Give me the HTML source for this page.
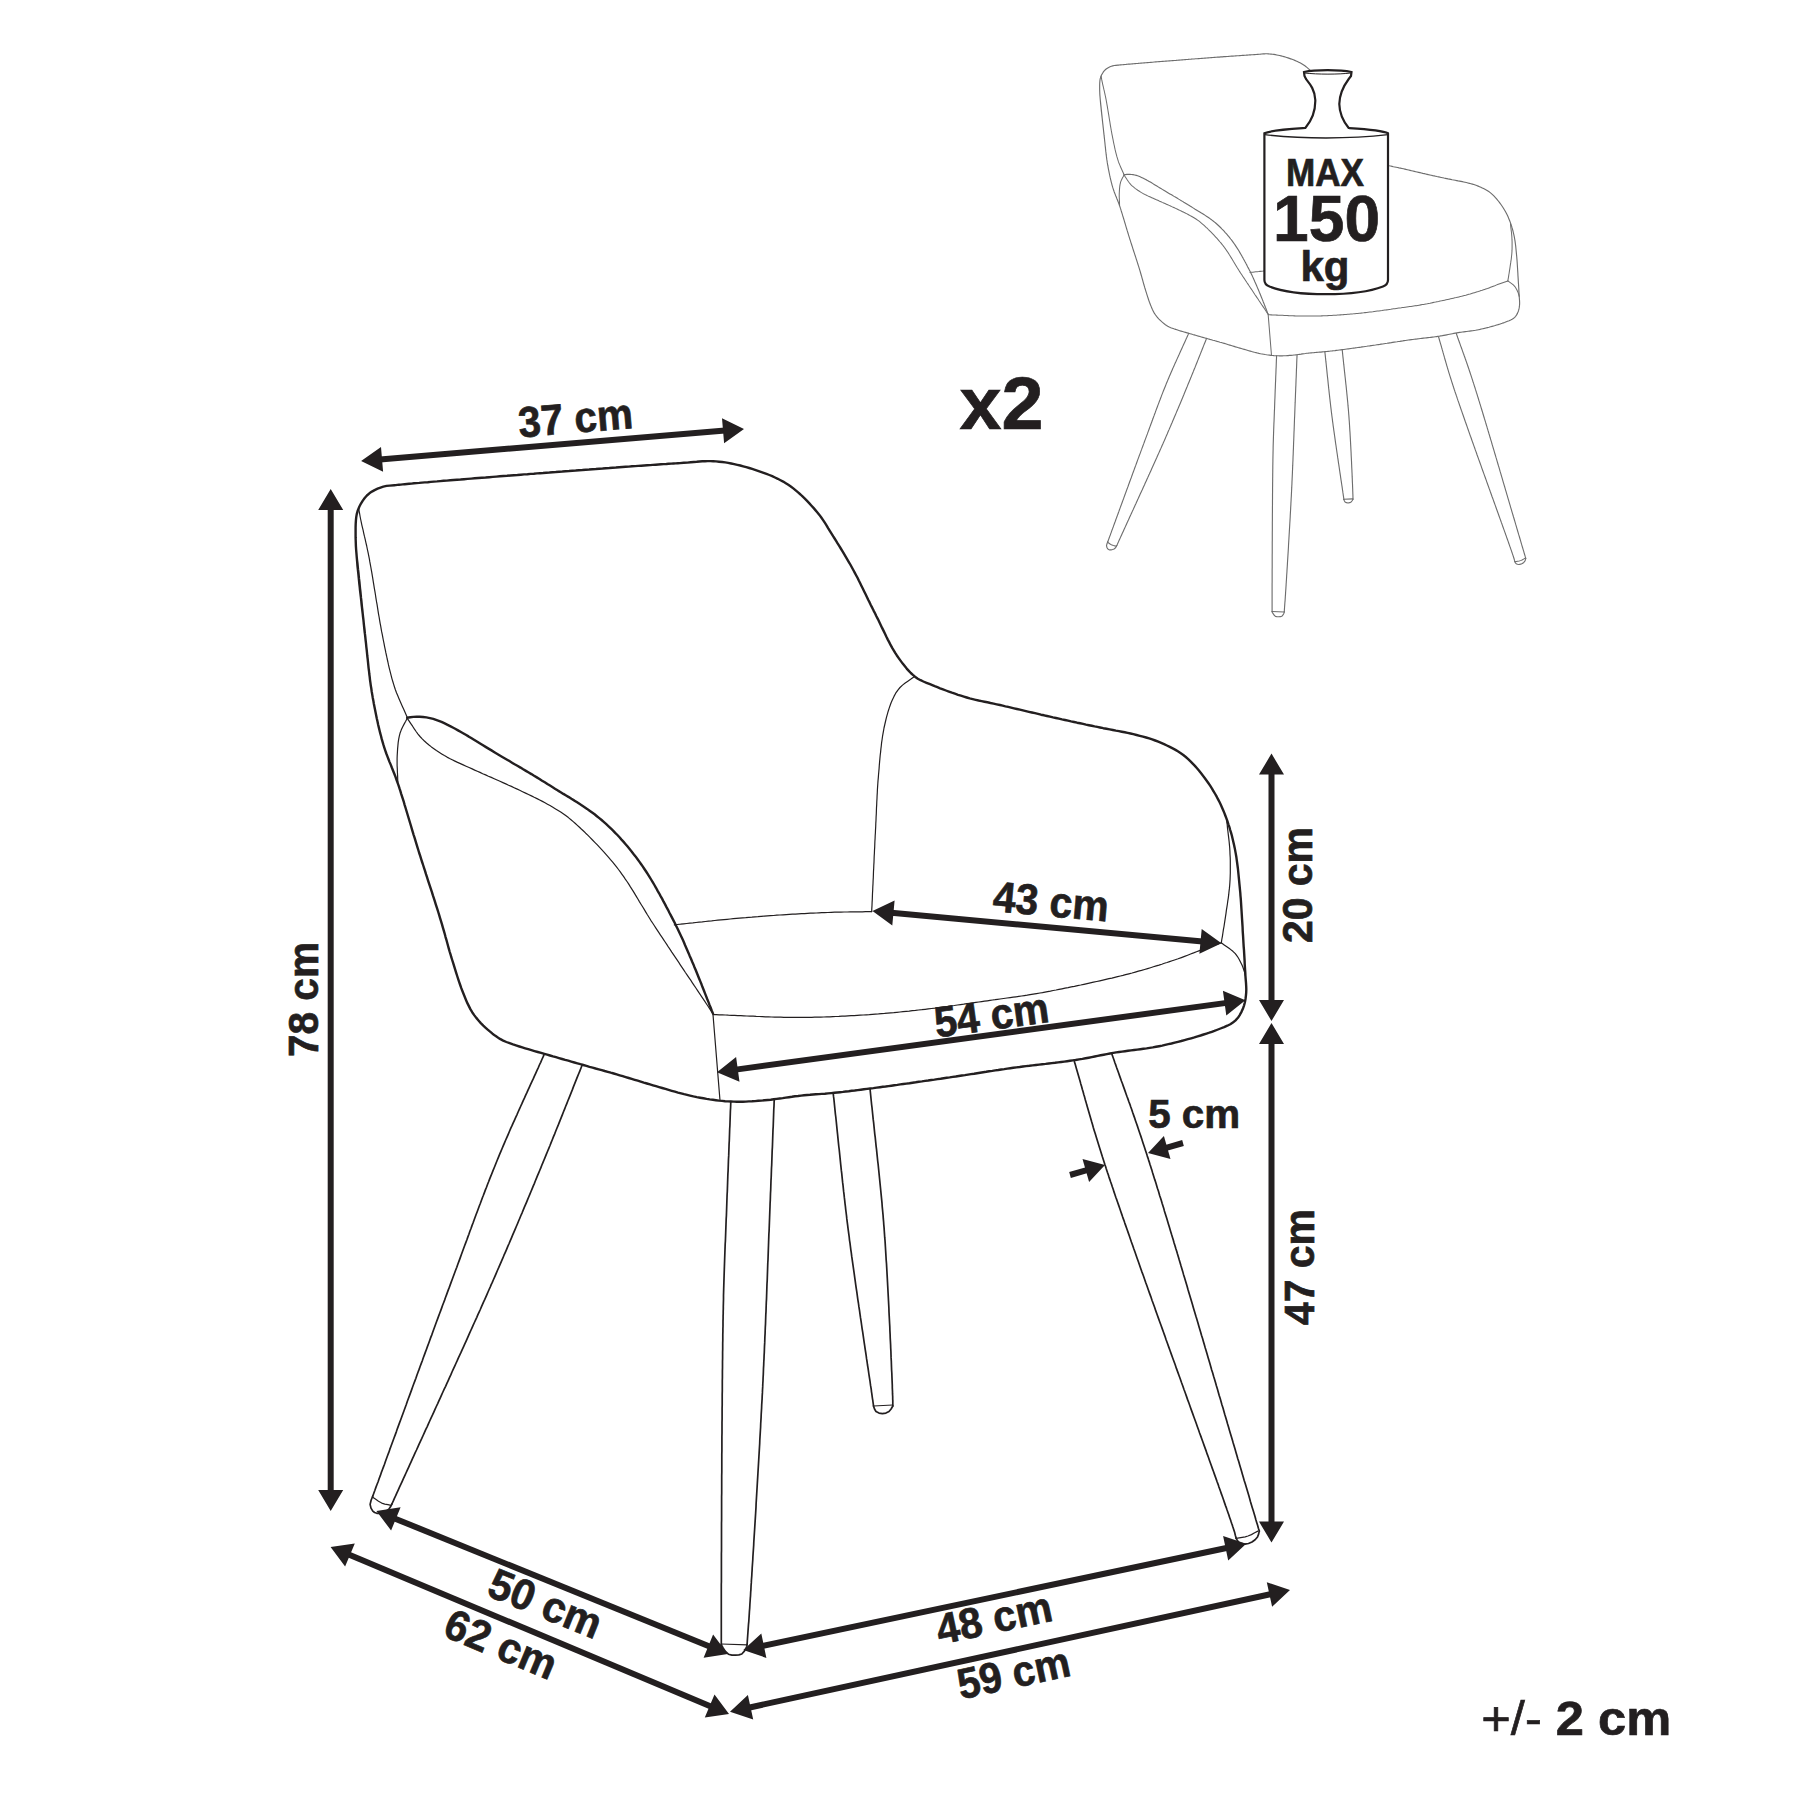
<!DOCTYPE html>
<html><head><meta charset="utf-8"><style>
html,body{margin:0;padding:0;background:#fff;}
svg{display:block;}
text{font-family:"Liberation Sans",sans-serif;font-weight:bold;fill:#231f20;stroke:#231f20;stroke-width:0.7px;}
</style></head><body>
<svg width="1800" height="1800" viewBox="0 0 1800 1800">
<defs>
<g id="cT"><path d="M365.6,640.0 365.3,636.9 364.9,633.7 364.6,630.5 364.2,627.2 363.8,623.8 363.5,620.5 363.1,617.1 362.7,613.7 362.3,610.3 361.9,606.9 361.5,603.5 361.2,600.1 360.8,596.7 360.4,593.4 360.0,590.1 359.7,586.9 359.3,583.7 359.0,580.5 358.7,577.5 358.4,574.5 358.1,571.7 357.8,568.9 357.5,566.2 357.3,563.6 357.1,561.2 356.9,558.9 356.7,556.7 356.4,552.8 356.1,549.3 355.9,546.1 355.8,543.1 355.7,540.3 355.6,537.4 355.6,534.4 355.6,530.9 355.6,527.4 355.7,523.9 355.9,520.6 356.2,517.4 356.7,514.4 357.8,510.4 359.3,506.8 361.1,503.3 362.8,500.6 364.7,498.0 366.9,495.5 369.4,493.3 371.9,491.6 374.6,490.1 377.6,488.7 380.5,487.6 383.3,486.7 386.6,485.9 389.8,485.6 394.4,485.2 395.8,485.1 397.3,484.9 399.0,484.7 400.8,484.6 402.7,484.4 404.7,484.2 406.9,484.0 409.1,483.8 411.5,483.6 414.0,483.3 416.6,483.1 419.2,482.9 422.0,482.6 424.9,482.4 427.8,482.2 430.8,481.9 433.9,481.6 437.0,481.4 440.2,481.1 443.5,480.8 446.8,480.6 450.2,480.3 453.6,480.0 457.0,479.7 460.5,479.5 464.1,479.2 467.6,478.9 471.2,478.6 474.7,478.3 478.3,478.0 481.9,477.7 485.6,477.5 489.2,477.2 492.8,476.9 496.3,476.6 499.9,476.3 503.5,476.0 507.0,475.8 510.5,475.5 514.0,475.2 517.4,475.0 520.8,474.7 524.1,474.4 527.4,474.2 530.7,473.9 533.8,473.7 537.0,473.4 540.0,473.2 543.1,473.0 546.2,472.7 549.4,472.5 552.6,472.2 555.8,472.0 559.1,471.7 562.3,471.5 565.6,471.2 569.0,471.0 572.3,470.7 575.7,470.5 579.0,470.2 582.4,470.0 585.8,469.7 589.1,469.5 592.5,469.2 595.9,469.0 599.2,468.7 602.6,468.5 605.9,468.2 609.3,468.0 612.6,467.7 615.9,467.5 619.2,467.2 622.4,467.0 625.6,466.8 628.8,466.6 632.0,466.3 635.1,466.1 638.2,465.9 641.2,465.7 644.2,465.5 647.2,465.3 650.1,465.1 652.9,464.9 655.7,464.7 658.4,464.5 661.1,464.3 663.7,464.1 666.3,464.0 668.7,463.8 671.1,463.6 673.5,463.5 675.7,463.4 677.9,463.2 680.0,463.1 683.8,462.8 687.4,462.6 690.7,462.3 693.8,462.0 696.7,461.8 699.5,461.5 702.3,461.3 705.0,461.2 707.7,461.1 710.4,461.1 713.2,461.2 716.1,461.4 719.1,461.7 722.2,462.0 725.2,462.4 728.2,462.9 731.2,463.5 734.2,464.1 737.3,464.8 740.3,465.5 743.3,466.3 746.3,467.1 749.2,468.0 752.2,468.9 755.0,469.8 757.9,470.8 760.8,471.8 763.6,472.8 766.5,473.9 769.4,475.0 772.2,476.2 775.0,477.5 777.8,478.8 780.5,480.2 783.2,481.6 785.8,483.2 788.3,484.8 790.8,486.5 793.3,488.4 795.7,490.4 798.1,492.4 800.5,494.5 802.8,496.7 805.1,498.9 807.3,501.2 809.4,503.4 811.5,505.7 813.5,507.9 815.4,510.1 817.2,512.2 819.4,514.9 821.3,517.5 823.1,520.1 824.8,522.7 826.5,525.3 828.1,528.1 829.8,530.9 831.7,533.9 833.1,536.2 834.6,538.5 836.1,540.9 837.6,543.4 839.2,545.9 840.8,548.5 842.4,551.1 843.9,553.7 845.5,556.4 847.1,559.1 848.7,561.8 850.3,564.5 851.8,567.3 853.3,570.0 854.7,572.6 856.1,575.2 857.5,577.8 858.8,580.5 860.2,583.2 861.5,585.9 862.9,588.7 864.2,591.4 865.6,594.2 866.9,596.9 868.2,599.7 869.6,602.4 870.9,605.2 872.3,607.9 873.6,610.6 875.0,613.3 876.4,616.2 877.9,619.1 879.3,622.0 880.7,624.9 882.1,627.9 883.6,630.9 885.0,633.8 886.4,636.8 887.8,639.6 889.3,642.4 890.7,645.2 892.2,647.9 893.7,650.4 895.2,652.9 896.7,655.2 898.7,658.1 900.7,660.9 902.7,663.6 904.7,666.1 906.7,668.6 908.8,670.9 910.8,673.0 912.9,674.9 915.0,676.7 917.8,678.7 920.6,680.2 923.4,681.5 926.5,682.8 930.0,684.2 932.3,685.2 934.7,686.2 937.4,687.2 940.1,688.3 943.0,689.4 945.9,690.5 948.9,691.6 951.9,692.7 954.9,693.7 958.0,694.8 960.9,695.7 963.9,696.6 966.7,697.5 969.7,698.4 972.7,699.1 975.7,699.8 978.6,700.5 981.5,701.1 984.5,701.7 987.4,702.3 990.5,703.0 993.6,703.6 996.7,704.3 1000.0,705.0 1002.7,705.6 1005.4,706.3 1008.2,706.9 1011.1,707.6 1014.0,708.3 1016.9,709.0 1019.9,709.7 1022.9,710.4 1025.9,711.1 1028.9,711.8 1031.9,712.5 1035.0,713.2 1038.0,713.9 1041.0,714.7 1044.1,715.3 1047.0,716.0 1050.0,716.7 1053.0,717.4 1055.9,718.0 1058.9,718.7 1062.0,719.4 1065.0,720.0 1068.0,720.7 1071.1,721.4 1074.1,722.0 1077.1,722.7 1080.1,723.3 1083.1,723.9 1086.0,724.6 1088.9,725.2 1091.8,725.8 1094.6,726.4 1097.3,726.9 1100.0,727.5 1103.3,728.2 1106.5,728.8 1109.7,729.4 1112.8,730.0 1115.9,730.6 1118.9,731.1 1121.8,731.7 1124.8,732.3 1127.6,732.9 1130.5,733.5 1133.3,734.2 1136.6,735.0 1139.8,735.8 1143.0,736.7 1146.1,737.5 1149.2,738.4 1152.2,739.4 1155.2,740.5 1158.3,741.7 1161.2,742.9 1164.1,744.2 1166.9,745.5 1169.8,746.9 1172.7,748.4 1175.5,749.9 1178.2,751.5 1180.8,753.2 1183.3,755.0 1185.8,757.0 1188.2,759.1 1190.5,761.3 1192.7,763.6 1194.9,765.9 1197.0,768.3 1199.1,770.8 1201.1,773.3 1203.0,775.7 1204.9,778.2 1206.7,780.7 1208.5,783.3 1210.3,785.9 1212.0,788.6 1213.6,791.3 1215.2,794.0 1216.7,796.7 1218.1,799.4 1219.5,802.0 1220.8,804.7 1222.0,807.4 1223.2,810.2 1224.3,812.9 1225.4,815.8 1226.5,818.6 1227.5,821.5 1228.4,824.3 1229.4,827.1 1230.2,830.0 1231.1,832.9 1231.9,835.8 1232.6,838.8 1233.3,841.8 1234.0,844.8 1234.7,847.9 1235.3,851.1 1235.8,853.9 1236.3,856.7 1236.7,859.6 1237.1,862.5 1237.5,865.5 1237.9,868.5 1238.2,871.5 1238.5,874.5 1238.8,877.6 1239.1,880.7 1239.4,883.8 1239.7,886.9 1240.0,890.0 1240.3,893.0 1240.5,896.0 1240.8,899.1 1241.0,902.2 1241.2,905.4 1241.4,908.5 1241.6,911.7 1241.8,914.9 1242.0,918.1 1242.2,921.2 1242.4,924.4 1242.6,927.5 1242.7,930.6 1242.9,933.6 1243.1,936.6 1243.3,940.0 1243.5,943.5 1243.7,946.9 1244.0,950.4 1244.2,953.9 1244.4,957.3 1244.6,960.6 1244.7,963.8 1244.9,967.0 1245.1,970.0 1245.3,972.8 1245.4,975.5 1245.7,979.4 1246.0,982.9 1246.2,986.2 1246.3,989.4 1246.2,992.6 1245.9,995.8 1245.5,999.0 1244.9,1002.2 1244.1,1005.3 1243.1,1008.2 1241.6,1011.6 1239.9,1014.8 1237.9,1017.8 1235.3,1020.6 1232.9,1022.5 1230.3,1024.2 1227.3,1025.7 1224.1,1027.1 1220.5,1028.5 1216.7,1030.0 1214.4,1030.9 1211.9,1031.8 1209.3,1032.7 1206.5,1033.6 1203.6,1034.5 1200.6,1035.5 1197.6,1036.4 1194.4,1037.4 1191.2,1038.3 1187.9,1039.2 1184.6,1040.1 1181.3,1041.0 1178.0,1041.8 1174.7,1042.7 1171.5,1043.5 1168.3,1044.2 1165.2,1044.9 1162.2,1045.6 1159.1,1046.2 1156.0,1046.8 1152.8,1047.4 1149.7,1047.9 1146.6,1048.4 1143.4,1048.8 1140.3,1049.2 1137.2,1049.6 1134.1,1050.0 1131.1,1050.4 1128.0,1050.8 1125.0,1051.2 1122.0,1051.6 1119.1,1052.0 1116.2,1052.4 1113.3,1052.9 1110.0,1053.5 1106.8,1054.1 1103.7,1054.7 1100.7,1055.3 1097.7,1055.9 1094.7,1056.5 1091.7,1057.1 1088.7,1057.7 1085.6,1058.3 1082.4,1058.9 1079.1,1059.4 1075.6,1060.0 1072.8,1060.4 1070.0,1060.8 1067.1,1061.2 1064.2,1061.6 1061.2,1062.0 1058.1,1062.4 1055.0,1062.8 1051.9,1063.1 1048.7,1063.5 1045.6,1063.9 1042.3,1064.2 1039.1,1064.6 1035.9,1065.0 1032.6,1065.4 1029.4,1065.8 1026.1,1066.1 1022.9,1066.5 1019.7,1067.0 1016.5,1067.4 1013.3,1067.8 1010.3,1068.2 1007.3,1068.6 1004.3,1069.1 1001.3,1069.5 998.3,1070.0 995.3,1070.4 992.3,1070.9 989.2,1071.3 986.2,1071.8 983.2,1072.2 980.1,1072.7 977.1,1073.2 974.1,1073.7 971.0,1074.1 968.0,1074.6 964.9,1075.1 961.9,1075.5 958.8,1076.0 955.8,1076.5 952.8,1076.9 949.7,1077.4 946.7,1077.8 943.7,1078.2 940.6,1078.7 937.5,1079.1 934.4,1079.6 931.3,1080.0 928.2,1080.5 925.1,1080.9 921.9,1081.4 918.8,1081.8 915.7,1082.3 912.6,1082.7 909.5,1083.2 906.4,1083.6 903.3,1084.0 900.3,1084.4 897.3,1084.9 894.3,1085.3 891.4,1085.7 888.5,1086.1 885.6,1086.5 882.8,1086.8 880.0,1087.2 876.7,1087.6 873.4,1088.1 870.2,1088.5 867.0,1088.9 863.9,1089.3 860.8,1089.7 857.7,1090.1 854.7,1090.5 851.7,1090.8 848.8,1091.2 845.8,1091.5 842.9,1091.9 840.1,1092.2 837.2,1092.5 834.4,1092.8 831.2,1093.1 828.0,1093.4 824.9,1093.7 821.9,1093.9 818.9,1094.1 815.9,1094.3 813.0,1094.5 810.0,1094.8 807.1,1095.0 804.1,1095.3 801.1,1095.6 798.1,1096.0 795.0,1096.3 791.9,1096.8 788.9,1097.2 785.8,1097.6 782.7,1098.1 779.7,1098.5 776.7,1098.9 773.7,1099.3 770.7,1099.7 767.8,1100.0 764.6,1100.3 761.4,1100.6 758.2,1100.8 755.1,1101.1 752.0,1101.3 748.9,1101.4 745.9,1101.6 742.9,1101.7 740.0,1101.7 736.9,1101.7 733.9,1101.6 730.9,1101.5 728.0,1101.4 725.1,1101.2 722.1,1100.9 718.9,1100.6 715.9,1100.2 712.9,1099.8 709.7,1099.4 706.6,1098.9 703.4,1098.3 700.1,1097.7 696.8,1097.1 693.4,1096.4 690.0,1095.6 687.1,1094.9 684.1,1094.2 681.1,1093.4 678.0,1092.6 674.9,1091.7 671.7,1090.8 668.6,1089.9 665.4,1088.9 662.2,1088.0 659.1,1087.1 656.0,1086.2 653.0,1085.3 650.0,1084.4 646.9,1083.5 643.8,1082.6 640.7,1081.6 637.7,1080.7 634.7,1079.8 631.7,1078.9 628.7,1078.0 625.7,1077.1 622.7,1076.2 619.7,1075.3 616.7,1074.4 613.7,1073.5 610.7,1072.7 607.7,1071.8 604.7,1071.0 601.7,1070.1 598.7,1069.3 595.6,1068.5 592.6,1067.6 589.5,1066.8 586.4,1065.9 583.3,1065.0 580.4,1064.2 577.4,1063.3 574.4,1062.5 571.3,1061.6 568.3,1060.7 565.2,1059.9 562.1,1059.0 559.0,1058.1 556.0,1057.2 553.0,1056.4 550.0,1055.5 547.2,1054.7 544.4,1053.9 541.1,1052.9 537.8,1052.0 534.5,1051.1 531.4,1050.2 528.2,1049.2 525.2,1048.3 522.3,1047.4 519.4,1046.5 516.7,1045.6 513.0,1044.4 509.6,1043.2 506.4,1042.0 503.2,1040.6 500.0,1038.9 497.5,1037.3 495.0,1035.6 492.5,1033.7 490.1,1031.7 487.7,1029.7 485.4,1027.6 483.3,1025.6 480.8,1023.1 478.5,1020.5 476.3,1017.9 474.2,1015.1 472.2,1012.2 470.5,1009.4 469.0,1006.4 467.5,1003.4 466.1,1000.2 464.7,996.8 463.3,993.3 462.3,990.7 461.2,987.9 460.2,985.0 459.2,982.1 458.2,979.1 457.2,976.0 456.2,972.8 455.2,969.7 454.2,966.4 453.2,963.2 452.2,960.0 451.3,957.2 450.5,954.3 449.6,951.5 448.8,948.6 448.0,945.7 447.2,942.8 446.4,939.8 445.5,936.8 444.7,933.8 443.8,930.7 442.9,927.6 442.0,924.4 441.0,921.1 440.0,917.8 439.2,915.2 438.4,912.5 437.5,909.7 436.6,906.9 435.7,904.1 434.8,901.2 433.9,898.3 432.9,895.4 432.0,892.4 431.0,889.4 430.0,886.4 429.0,883.3 428.0,880.3 427.0,877.2 426.0,874.2 425.1,871.1 424.1,868.1 423.1,865.0 422.1,862.0 421.1,858.9 420.2,855.9 419.2,853.0 418.3,850.0 417.4,847.1 416.5,844.1 415.6,841.1 414.7,838.1 413.7,835.1 412.8,832.1 411.9,829.1 411.0,826.0 410.1,823.0 409.2,820.0 408.3,817.0 407.4,814.0 406.5,811.0 405.6,808.0 404.7,805.1 403.9,802.2 403.0,799.4 402.1,796.6 401.2,793.8 400.4,791.1 399.5,788.4 398.7,785.8 397.8,783.3 396.6,780.0 395.5,776.8 394.3,773.7 393.1,770.7 391.9,767.8 390.8,764.9 389.6,762.1 388.5,759.3 387.4,756.4 386.3,753.5 385.3,750.6 384.3,747.6 383.3,744.4 382.5,741.6 381.7,738.9 381.0,736.0 380.2,733.2 379.5,730.3 378.8,727.4 378.1,724.4 377.5,721.5 376.8,718.5 376.2,715.5 375.6,712.5 375.0,709.5 374.4,706.5 373.8,703.5 373.3,700.4 372.7,697.4 372.2,694.4 371.7,691.5 371.3,688.5 370.8,685.6 370.4,682.7 370.0,679.8 369.7,676.9 369.3,674.0 369.0,671.0 368.6,668.1 368.3,665.1 368.0,662.1 367.7,659.1 367.3,656.0 367.0,652.9 366.7,649.8 366.3,646.6 366.0,643.3 365.6,640.0 365.3,637.2 365.0,634.4 364.6,631.5 364.3,628.6 364.0,625.7 363.7,622.7 363.4,619.7 363.0,616.6 362.7,613.5 362.4,610.5 362.0,607.3 361.7,604.2 361.4,601.0 361.0,597.9 360.7,594.7 360.4,591.5 360.0,588.3 359.7,585.1 359.4,581.9 359.0,578.7 358.7,575.6 358.4,572.4 358.0,569.2 357.7,566.1 357.4,562.9 357.0,559.8 356.7,556.7"/><path d="M407.2,717.8 410.3,717.3 413.3,716.9 416.7,716.7 419.7,716.8 423.0,717.0 426.4,717.4 429.9,718.1 433.3,718.9 436.0,719.8 438.8,720.8 441.5,721.9 444.2,723.2 447.1,724.6 450.1,726.1 453.3,727.8 455.6,729.0 458.0,730.4 460.5,731.8 463.1,733.2 465.8,734.8 468.5,736.4 471.2,738.1 474.0,739.8 476.9,741.5 479.7,743.3 482.6,745.1 485.6,746.9 488.5,748.6 491.5,750.4 494.4,752.2 496.9,753.7 499.4,755.2 501.9,756.7 504.5,758.2 507.1,759.7 509.8,761.3 512.4,762.9 515.1,764.5 517.8,766.0 520.5,767.6 523.2,769.3 525.9,770.9 528.7,772.5 531.4,774.1 534.1,775.8 536.8,777.4 539.5,779.0 542.1,780.7 544.8,782.3 547.4,784.0 550.0,785.6 552.7,787.3 555.3,788.9 558.0,790.6 560.7,792.2 563.4,793.9 566.1,795.5 568.8,797.1 571.4,798.8 574.1,800.4 576.7,802.1 579.4,803.8 582.0,805.5 584.6,807.2 587.1,808.9 589.6,810.7 592.1,812.5 594.6,814.3 596.9,816.2 599.3,818.1 601.6,820.0 604.0,822.1 606.3,824.2 608.6,826.3 610.8,828.4 613.1,830.6 615.2,832.8 617.4,835.0 619.5,837.3 621.5,839.6 623.6,841.9 625.6,844.2 627.6,846.6 629.6,849.0 631.6,851.4 633.5,853.9 635.5,856.4 637.4,859.0 639.3,861.6 641.0,864.0 642.7,866.4 644.4,869.0 646.1,871.5 647.8,874.2 649.5,876.8 651.1,879.5 652.7,882.2 654.4,885.0 656.0,887.8 657.5,890.6 659.1,893.3 660.6,896.1 662.2,898.9 663.6,901.7 665.1,904.4 666.5,907.1 668.0,909.8 669.3,912.5 670.7,915.1 672.0,917.6 673.3,920.1 674.8,923.0 676.2,925.9 677.6,928.7 678.9,931.5 680.2,934.2 681.5,936.9 682.7,939.6 683.9,942.3 685.0,945.0 686.2,947.7 687.4,950.4 688.6,953.2 689.7,955.9 691.0,958.8 692.2,961.7 693.4,964.4 694.5,967.2 695.7,970.0 696.8,972.8 698.0,975.7 699.1,978.5 700.3,981.4 701.5,984.3 702.6,987.3 703.8,990.2 704.9,993.1 706.1,996.1 707.2,999.0 708.4,1001.9 709.5,1004.9 710.7,1007.8 711.8,1010.7 713.0,1013.6"/></g>
<g id="cN"><path d="M358.6,508.0 359.1,510.8 359.6,513.6 360.1,516.5 360.8,520.0 361.3,522.3 361.8,524.8 362.4,527.4 363.1,530.2 363.7,533.1 364.4,536.2 365.2,539.3 365.9,542.6 366.7,546.0 367.4,549.5 368.2,553.1 368.9,556.7 369.4,559.1 369.8,561.7 370.3,564.3 370.8,567.0 371.3,569.9 371.8,572.7 372.3,575.7 372.8,578.7 373.3,581.8 373.8,584.9 374.3,588.1 374.9,591.3 375.4,594.5 375.9,597.8 376.4,601.0 377.0,604.2 377.5,607.4 378.0,610.7 378.5,613.8 379.1,617.0 379.6,620.1 380.1,623.1 380.7,626.1 381.2,629.1 381.7,631.9 382.3,634.7 382.8,637.4 383.3,640.0 384.0,643.3 384.6,646.6 385.3,649.8 385.9,652.9 386.6,656.0 387.2,659.0 387.9,662.0 388.5,664.9 389.2,667.8 389.9,670.6 390.6,673.4 391.3,676.1 392.0,678.8 392.8,681.5 393.6,684.1 394.4,686.7 395.4,689.8 396.5,692.7 397.7,695.6 398.8,698.3 400.0,701.1 401.2,703.8 402.4,706.4 403.6,709.1 404.8,711.8 406.0,714.5 407.2,717.2"/><path d="M407.2,718.3 409.0,720.9 410.8,723.6 412.6,726.2 414.3,728.9 416.1,731.5 418.0,734.1 420.0,736.5 422.2,738.9 424.4,741.0 426.6,743.0 429.0,745.0 431.4,746.9 433.9,748.7 436.4,750.5 439.1,752.2 441.7,753.9 444.4,755.6 447.0,757.1 449.6,758.5 452.2,759.8 454.9,761.1 457.6,762.4 460.4,763.6 463.2,764.9 466.1,766.2 469.1,767.5 472.2,768.9 474.7,770.1 477.3,771.2 480.0,772.4 482.7,773.7 485.6,774.9 488.4,776.2 491.3,777.4 494.2,778.7 497.1,780.0 500.0,781.3 502.9,782.6 505.8,783.9 508.6,785.2 511.4,786.4 514.1,787.7 516.7,788.9 519.7,790.3 522.6,791.7 525.6,793.1 528.5,794.5 531.4,795.9 534.2,797.3 537.0,798.6 539.7,800.0 542.4,801.4 545.0,802.8 547.5,804.2 550.0,805.6 552.9,807.3 555.6,808.9 558.2,810.5 560.7,812.0 563.2,813.7 565.7,815.6 568.4,817.6 571.3,820.0 573.2,821.6 575.1,823.3 577.1,825.1 579.2,827.0 581.3,829.0 583.5,831.0 585.7,833.2 588.0,835.4 590.2,837.6 592.5,840.0 594.8,842.3 597.1,844.7 599.4,847.2 601.7,849.7 604.0,852.2 606.2,854.7 608.4,857.2 610.5,859.7 612.7,862.2 614.7,864.7 616.7,867.2 618.5,869.5 620.3,871.9 622.0,874.3 623.7,876.7 625.3,879.1 627.0,881.5 628.6,883.9 630.1,886.4 631.7,888.9 633.3,891.4 634.8,893.9 636.3,896.4 637.9,899.0 639.4,901.6 641.0,904.2 642.6,906.8 644.2,909.4 645.8,912.1 647.4,914.8 649.1,917.5 650.8,920.3 652.6,923.0 654.4,925.8 655.9,928.1 657.4,930.4 658.9,932.7 660.5,935.1 662.1,937.4 663.7,939.8 665.3,942.3 666.9,944.7 668.5,947.2 670.2,949.6 671.8,952.1 673.5,954.6 675.2,957.1 676.9,959.7 678.6,962.2 680.3,964.8 682.0,967.3 683.7,969.9 685.4,972.5 687.2,975.1 688.9,977.6 690.7,980.2 692.4,982.8 694.1,985.4 695.9,988.0 697.6,990.6 699.3,993.2 701.1,995.8 702.8,998.3 704.5,1000.9 706.2,1003.5 707.9,1006.0 709.6,1008.6 711.3,1011.1 713.0,1013.6"/><path d="M407.2,718.3 405.7,721.2 404.1,724.1 402.6,727.0 401.2,730.1 400.0,733.3 399.3,736.2 398.7,739.2 398.2,742.4 397.9,745.6 397.6,748.9 397.4,752.3 397.2,755.6 397.1,758.8 397.1,762.1 397.1,765.4 397.3,768.7 397.4,772.1 397.6,775.5 397.7,778.9 397.8,782.2"/><path d="M914.2,676.7 911.3,678.8 908.2,680.9 905.2,683.0 902.5,685.1 900.0,687.5 897.7,690.3 895.7,693.2 894.0,696.4 892.3,700.0 891.2,702.5 890.2,705.3 889.2,708.1 888.2,711.2 887.3,714.4 886.4,717.6 885.6,721.0 884.8,724.5 884.0,728.0 883.5,730.8 883.0,733.6 882.5,736.5 882.1,739.5 881.6,742.6 881.3,745.7 880.9,748.9 880.6,752.1 880.2,755.3 879.9,758.6 879.6,761.9 879.3,765.2 879.1,768.4 878.8,771.7 878.5,775.0 878.3,777.9 878.0,780.9 877.8,783.8 877.6,786.7 877.4,789.7 877.3,792.6 877.1,795.6 877.0,798.5 876.8,801.5 876.7,804.6 876.5,807.6 876.4,810.7 876.3,813.8 876.1,817.0 876.0,820.2 875.8,823.4 875.7,826.7 875.5,830.0 875.4,832.7 875.2,835.5 875.1,838.4 874.9,841.2 874.8,844.1 874.7,847.1 874.5,850.0 874.4,853.0 874.2,856.0 874.1,859.0 874.0,862.1 873.8,865.2 873.7,868.2 873.5,871.3 873.4,874.5 873.3,877.6 873.1,880.7 873.0,883.8 872.8,886.9 872.7,890.0 872.5,893.2 872.4,896.3 872.3,899.4 872.1,902.4 872.0,905.5 871.8,908.6 871.7,911.6"/><path d="M1226.8,821.5 1227.2,824.8 1227.5,828.1 1227.9,831.3 1228.3,834.6 1228.7,837.9 1229.1,841.2 1229.4,844.5 1229.7,847.8 1229.9,851.1 1230.0,854.2 1230.2,857.3 1230.3,860.4 1230.3,863.5 1230.3,866.6 1230.3,869.7 1230.3,872.9 1230.2,876.0 1230.1,879.1 1229.9,882.2 1229.7,885.3 1229.4,888.4 1229.0,891.6 1228.7,894.7 1228.3,897.8 1227.8,900.9 1227.4,904.0 1226.9,907.1 1226.4,910.2 1226.0,913.3 1225.5,916.6 1225.0,919.9 1224.5,923.2 1224.0,926.5 1223.4,929.7 1222.9,933.0 1222.4,936.3 1221.8,939.5 1221.3,942.8"/><path d="M1221.3,942.8 1224.2,944.9 1227.2,947.0 1230.1,949.1 1232.9,951.3 1235.3,953.7 1237.3,956.3 1239.1,959.2 1240.6,962.2 1242.0,965.1 1243.1,967.7 1244.4,971.7 1245.4,975.5"/><path d="M674.3,924.8 677.4,924.5 680.5,924.2 683.6,923.8 686.7,923.5 689.8,923.2 692.9,922.9 696.0,922.5 699.1,922.2 702.3,921.9 705.4,921.5 708.5,921.2 711.6,920.9 714.7,920.5 717.8,920.2 720.9,919.9 724.0,919.6 727.1,919.3 730.2,919.0 733.3,918.7 736.4,918.4 739.5,918.1 742.7,917.8 745.8,917.6 748.9,917.3 751.9,917.1 755.0,916.8 758.0,916.6 761.1,916.3 764.2,916.1 767.4,915.9 770.5,915.7 773.6,915.5 776.8,915.2 779.9,915.0 783.0,914.8 786.2,914.6 789.3,914.4 792.4,914.2 795.4,914.1 798.5,913.9 801.5,913.7 804.5,913.6 807.5,913.4 810.4,913.2 813.3,913.1 816.2,913.0 819.0,912.8 821.7,912.7 824.4,912.6 827.9,912.5 831.3,912.3 834.6,912.2 837.8,912.2 841.0,912.1 844.1,912.0 847.2,912.0 850.3,911.9 853.3,911.9 856.3,911.8 859.4,911.8 862.4,911.8 865.5,911.7 868.6,911.7 871.7,911.6"/><path d="M713.0,1014.6 716.1,1014.7 719.2,1014.8 722.3,1014.9 725.3,1015.0 728.4,1015.2 731.5,1015.3 734.6,1015.4 737.7,1015.6 740.8,1015.7 743.8,1015.8 746.9,1016.0 750.0,1016.1 753.1,1016.2 756.2,1016.4 759.2,1016.5 762.3,1016.6 765.4,1016.8 768.5,1016.9 771.6,1017.0 774.7,1017.1 777.8,1017.2 780.8,1017.2 783.9,1017.3 787.0,1017.4 790.1,1017.4 793.2,1017.4 796.3,1017.4 799.4,1017.4 802.5,1017.4 805.6,1017.4 808.6,1017.4 811.7,1017.3 814.7,1017.2 817.7,1017.2 820.8,1017.1 823.8,1017.0 826.8,1016.9 829.8,1016.8 832.9,1016.6 835.9,1016.5 838.9,1016.4 842.0,1016.2 845.0,1016.1 848.0,1015.9 851.1,1015.7 854.1,1015.6 857.2,1015.4 860.2,1015.2 863.2,1015.0 866.3,1014.8 869.3,1014.6 872.4,1014.3 875.4,1014.1 878.5,1013.9 881.6,1013.6 884.6,1013.4 887.7,1013.1 890.8,1012.8 893.8,1012.6 896.9,1012.3 900.0,1012.0 903.0,1011.7 906.1,1011.4 909.2,1011.1 912.3,1010.7 915.5,1010.4 918.6,1010.0 921.8,1009.7 925.1,1009.3 928.3,1008.9 931.6,1008.5 934.8,1008.1 938.1,1007.6 941.3,1007.2 944.6,1006.8 947.8,1006.4 951.1,1005.9 954.3,1005.5 957.5,1005.0 960.6,1004.6 963.7,1004.2 966.9,1003.7 969.9,1003.3 972.9,1002.9 975.9,1002.4 978.8,1002.0 981.7,1001.6 984.5,1001.2 987.3,1000.8 990.0,1000.4 992.6,1000.0 995.1,999.7 997.6,999.3 1000.0,999.0 1003.6,998.5 1007.0,998.0 1010.2,997.6 1013.2,997.2 1016.0,996.8 1018.8,996.4 1021.6,996.0 1024.4,995.6 1027.2,995.2 1030.1,994.7 1033.2,994.2 1036.5,993.6 1040.0,993.0 1042.5,992.6 1045.0,992.1 1047.6,991.6 1050.4,991.1 1053.2,990.5 1056.1,990.0 1059.0,989.4 1062.0,988.8 1065.0,988.2 1068.1,987.6 1071.2,986.9 1074.4,986.3 1077.6,985.6 1080.7,985.0 1083.9,984.3 1087.1,983.6 1090.3,982.9 1093.5,982.2 1096.7,981.5 1099.8,980.8 1102.9,980.1 1105.9,979.4 1108.9,978.7 1111.9,978.1 1114.8,977.4 1117.6,976.7 1120.4,976.0 1123.0,975.4 1125.6,974.7 1128.9,973.8 1132.1,973.0 1135.3,972.1 1138.4,971.2 1141.5,970.4 1144.6,969.5 1147.6,968.6 1150.5,967.7 1153.4,966.8 1156.3,965.9 1159.0,965.1 1161.8,964.2 1164.4,963.3 1167.0,962.5 1169.6,961.6 1172.1,960.8 1174.5,960.0 1178.1,958.8 1181.4,957.6 1184.6,956.4 1187.6,955.2 1190.6,954.0 1193.6,952.9 1196.5,951.7 1199.5,950.6 1202.7,949.4 1205.8,948.3 1208.9,947.2 1212.0,946.1 1215.1,945.0 1218.2,943.9 1221.3,942.8"/><path d="M713.0,1014.6 L720.0,1100.5"/><path d="M372.3,1496.9 375.4,1499.1 378.5,1501.3 381.7,1503.1 384.8,1504.1 387.9,1504.7 391.0,1505.3"/><path d="M721.3,1644.0 L747.1,1644.8"/><path d="M873.5,1406.0 L892.8,1405.0"/><path d="M1236.2,1538.3 1239.2,1537.8 1242.2,1537.3 1245.2,1536.8 1248.0,1536.0 1251.4,1534.6 1254.7,1532.8 1257.9,1531.1"/></g>
<g id="cL"><path d="M544.4,1053.9 543.2,1056.7 541.9,1059.5 540.7,1062.3 539.4,1065.0 538.2,1067.8 536.9,1070.6 535.7,1073.3 534.4,1076.1 533.2,1078.9 531.9,1081.6 530.6,1084.4 529.4,1087.1 528.1,1089.9 526.9,1092.7 525.6,1095.4 524.4,1098.2 523.1,1100.9 521.9,1103.7 520.6,1106.5 519.4,1109.2 518.1,1112.0 516.9,1114.8 515.6,1117.6 514.4,1120.3 513.1,1123.1 511.9,1125.9 510.6,1128.7 509.4,1131.5 508.2,1134.3 507.0,1137.1 505.7,1140.0 504.5,1142.8 503.3,1145.6 502.1,1148.5 500.9,1151.4 499.7,1154.2 498.5,1157.1 497.3,1160.0 496.2,1162.7 495.1,1165.5 494.0,1168.2 492.9,1170.9 491.8,1173.7 490.7,1176.4 489.6,1179.1 488.6,1181.8 487.5,1184.5 486.5,1187.2 485.4,1189.9 484.4,1192.6 483.4,1195.3 482.3,1198.0 481.3,1200.8 480.3,1203.5 479.2,1206.2 478.2,1209.0 477.2,1211.7 476.1,1214.5 475.1,1217.3 474.1,1220.0 473.1,1222.8 472.0,1225.6 471.0,1228.5 469.9,1231.3 468.9,1234.2 467.8,1237.1 466.8,1240.0 465.7,1242.9 464.6,1245.8 463.5,1248.8 462.4,1251.8 461.3,1254.8 460.2,1257.9 459.1,1260.9 457.9,1264.0 456.8,1267.2 455.6,1270.3 454.4,1273.5 453.2,1276.7 452.0,1280.0 451.1,1282.4 450.2,1284.9 449.3,1287.4 448.3,1289.9 447.4,1292.4 446.5,1294.9 445.5,1297.5 444.6,1300.1 443.6,1302.7 442.6,1305.3 441.7,1307.9 440.7,1310.6 439.7,1313.2 438.7,1315.9 437.7,1318.6 436.7,1321.3 435.7,1324.0 434.7,1326.8 433.7,1329.5 432.7,1332.3 431.7,1335.1 430.6,1337.9 429.6,1340.7 428.6,1343.5 427.5,1346.4 426.5,1349.2 425.4,1352.1 424.4,1354.9 423.3,1357.8 422.3,1360.7 421.2,1363.6 420.1,1366.5 419.1,1369.4 418.0,1372.3 416.9,1375.2 415.9,1378.2 414.8,1381.1 413.7,1384.0 412.6,1387.0 411.6,1389.9 410.5,1392.9 409.4,1395.9 408.3,1398.8 407.2,1401.8 406.2,1404.8 405.1,1407.8 404.0,1410.7 402.9,1413.7 401.8,1416.7 400.7,1419.7 399.6,1422.6 398.5,1425.6 397.4,1428.6 396.4,1431.6 395.3,1434.6 394.2,1437.5 393.1,1440.5 392.0,1443.5 390.9,1446.5 389.8,1449.4 388.8,1452.4 387.7,1455.3 386.6,1458.3 385.5,1461.2 384.5,1464.2 383.4,1467.1 382.3,1470.0 381.2,1472.9 380.2,1475.9 379.1,1478.8 378.1,1481.7 377.0,1484.5 375.9,1487.4 374.9,1490.3 373.8,1493.2 372.8,1496.0"/><path d="M582.2,1065.0 581.1,1067.8 580.0,1070.6 578.9,1073.3 577.7,1076.1 576.6,1078.9 575.5,1081.6 574.4,1084.4 573.3,1087.1 572.3,1089.9 571.2,1092.6 570.1,1095.4 569.0,1098.1 567.9,1100.8 566.8,1103.6 565.7,1106.3 564.6,1109.1 563.5,1111.8 562.4,1114.6 561.3,1117.4 560.2,1120.1 559.1,1122.9 558.0,1125.7 556.8,1128.5 555.7,1131.3 554.6,1134.1 553.4,1136.9 552.3,1139.7 551.1,1142.6 550.0,1145.5 548.8,1148.3 547.6,1151.2 546.4,1154.1 545.2,1157.1 544.0,1160.0 542.9,1162.6 541.8,1165.3 540.8,1167.9 539.7,1170.5 538.6,1173.1 537.5,1175.7 536.4,1178.4 535.3,1181.0 534.3,1183.6 533.2,1186.2 532.1,1188.8 531.0,1191.5 529.9,1194.1 528.8,1196.8 527.7,1199.4 526.6,1202.1 525.5,1204.7 524.3,1207.4 523.2,1210.1 522.1,1212.8 520.9,1215.5 519.8,1218.2 518.6,1221.0 517.5,1223.7 516.3,1226.5 515.1,1229.3 513.9,1232.1 512.7,1234.9 511.5,1237.8 510.3,1240.6 509.1,1243.5 507.8,1246.4 506.6,1249.3 505.3,1252.3 504.0,1255.2 502.8,1258.2 501.4,1261.3 500.1,1264.3 498.8,1267.4 497.4,1270.5 496.1,1273.6 494.7,1276.8 493.3,1280.0 492.3,1282.4 491.2,1284.7 490.2,1287.1 489.1,1289.5 488.0,1292.0 487.0,1294.4 485.9,1296.9 484.8,1299.4 483.6,1301.9 482.5,1304.4 481.4,1306.9 480.3,1309.5 479.1,1312.1 477.9,1314.7 476.8,1317.3 475.6,1319.9 474.4,1322.5 473.2,1325.2 472.0,1327.8 470.8,1330.5 469.6,1333.2 468.4,1335.9 467.2,1338.6 466.0,1341.3 464.7,1344.1 463.5,1346.8 462.2,1349.6 461.0,1352.4 459.7,1355.1 458.4,1357.9 457.2,1360.7 455.9,1363.5 454.6,1366.4 453.3,1369.2 452.0,1372.0 450.8,1374.9 449.5,1377.7 448.2,1380.6 446.9,1383.4 445.6,1386.3 444.2,1389.2 442.9,1392.0 441.6,1394.9 440.3,1397.8 439.0,1400.7 437.7,1403.6 436.3,1406.5 435.0,1409.4 433.7,1412.3 432.4,1415.2 431.0,1418.1 429.7,1421.0 428.4,1423.9 427.1,1426.8 425.7,1429.7 424.4,1432.6 423.1,1435.5 421.8,1438.4 420.4,1441.3 419.1,1444.2 417.8,1447.1 416.5,1450.0 415.1,1452.9 413.8,1455.8 412.5,1458.7 411.2,1461.6 409.9,1464.4 408.6,1467.3 407.3,1470.2 406.0,1473.0 404.7,1475.9 403.4,1478.7 402.1,1481.6 400.8,1484.4 399.5,1487.2 398.2,1490.1 396.9,1492.9 395.7,1495.7 394.4,1498.4 393.2,1501.2 391.9,1504.0"/><path d="M372.8,1496.0 371.1,1500.3 370.1,1504.4 371.0,1508.1 372.8,1511.1 374.6,1512.5 376.8,1513.3 379.8,1513.3 383.0,1512.5 386.1,1511.2 388.8,1509.3 390.5,1506.8 391.9,1504.0"/><path d="M730.8,1101.7 730.7,1104.7 730.6,1107.7 730.4,1110.7 730.3,1113.7 730.2,1116.7 730.1,1119.7 730.0,1122.7 729.9,1125.8 729.7,1128.8 729.6,1131.8 729.5,1134.8 729.4,1137.8 729.3,1140.8 729.1,1143.8 729.0,1146.8 728.9,1149.8 728.8,1152.9 728.7,1155.9 728.5,1158.9 728.4,1161.9 728.3,1164.9 728.2,1167.9 728.1,1170.9 727.9,1173.9 727.8,1176.9 727.7,1179.9 727.6,1182.9 727.5,1185.9 727.4,1188.9 727.3,1191.8 727.1,1194.8 727.0,1197.8 726.9,1200.8 726.8,1203.7 726.7,1206.7 726.6,1209.7 726.5,1212.7 726.4,1215.7 726.2,1218.6 726.1,1221.5 726.0,1224.3 725.9,1227.1 725.8,1229.9 725.7,1232.7 725.6,1235.5 725.5,1238.3 725.4,1241.0 725.2,1243.8 725.1,1246.6 725.0,1249.4 724.9,1252.2 724.8,1255.0 724.7,1257.8 724.6,1260.7 724.5,1263.6 724.4,1266.6 724.3,1269.6 724.2,1272.6 724.1,1275.7 724.0,1278.9 723.9,1282.1 723.8,1285.4 723.7,1288.7 723.6,1292.1 723.5,1295.6 723.5,1299.2 723.4,1302.9 723.3,1306.7 723.3,1309.0 723.2,1311.3 723.2,1313.7 723.1,1316.1 723.1,1318.6 723.0,1321.1 723.0,1323.7 723.0,1326.3 722.9,1329.0 722.9,1331.8 722.8,1334.6 722.8,1337.4 722.8,1340.3 722.7,1343.2 722.7,1346.1 722.7,1349.1 722.6,1352.2 722.6,1355.3 722.6,1358.4 722.5,1361.5 722.5,1364.7 722.5,1367.9 722.4,1371.1 722.4,1374.4 722.4,1377.7 722.3,1381.0 722.3,1384.4 722.3,1387.8 722.3,1391.1 722.2,1394.6 722.2,1398.0 722.2,1401.4 722.2,1404.9 722.1,1408.4 722.1,1411.9 722.1,1415.4 722.1,1418.9 722.0,1422.5 722.0,1426.0 722.0,1429.6 722.0,1433.1 721.9,1436.7 721.9,1440.2 721.9,1443.8 721.9,1447.4 721.9,1450.9 721.8,1454.5 721.8,1458.1 721.8,1461.6 721.8,1465.2 721.8,1468.7 721.8,1472.2 721.7,1475.8 721.7,1479.3 721.7,1482.8 721.7,1486.3 721.7,1489.7 721.7,1493.2 721.6,1496.6 721.6,1500.0 721.6,1503.4 721.6,1506.8 721.6,1510.1 721.6,1513.4 721.6,1516.7 721.6,1520.0 721.5,1523.2 721.5,1526.4 721.5,1529.6 721.5,1532.7 721.5,1535.9 721.5,1538.9 721.5,1542.0 721.5,1544.9 721.5,1547.9 721.5,1550.8 721.4,1553.7 721.4,1556.5 721.4,1559.3 721.4,1562.0 721.4,1564.7 721.4,1567.3 721.4,1569.9 721.4,1572.5 721.4,1574.9 721.4,1577.4 721.4,1579.7 721.4,1582.0 721.3,1584.3 721.3,1586.5 721.3,1588.6 721.3,1590.7 721.3,1592.7 721.3,1594.6 721.3,1596.5 721.3,1598.3 721.3,1600.0 721.3,1604.4 721.3,1608.4 721.3,1612.1 721.3,1615.5 721.3,1618.7 721.3,1621.8 721.3,1624.6 721.3,1627.4 721.3,1630.1 721.3,1632.9 721.3,1635.6 721.3,1638.4 721.3,1641.3 721.3,1644.4"/><path d="M774.2,1100.0 774.1,1103.0 774.0,1106.1 773.8,1109.0 773.7,1112.0 773.6,1115.0 773.5,1117.9 773.4,1120.9 773.3,1123.8 773.2,1126.7 773.0,1129.6 772.9,1132.6 772.8,1135.5 772.7,1138.4 772.6,1141.3 772.5,1144.2 772.4,1147.1 772.2,1150.1 772.1,1153.0 772.0,1156.0 771.9,1159.0 771.8,1162.0 771.7,1165.0 771.5,1168.0 771.4,1171.0 771.3,1174.1 771.2,1177.2 771.0,1180.4 770.9,1183.5 770.8,1186.7 770.7,1190.0 770.5,1193.2 770.4,1196.5 770.3,1199.9 770.1,1203.3 770.0,1206.7 769.9,1209.3 769.8,1211.9 769.7,1214.6 769.6,1217.3 769.5,1220.0 769.4,1222.7 769.3,1225.4 769.2,1228.2 769.1,1231.0 768.9,1233.8 768.8,1236.6 768.7,1239.4 768.6,1242.3 768.5,1245.2 768.4,1248.0 768.3,1250.9 768.2,1253.9 768.1,1256.8 768.0,1259.7 767.8,1262.7 767.7,1265.7 767.6,1268.7 767.5,1271.7 767.4,1274.7 767.3,1277.7 767.2,1280.7 767.0,1283.8 766.9,1286.8 766.8,1289.9 766.7,1293.0 766.6,1296.0 766.5,1299.1 766.3,1302.2 766.2,1305.3 766.1,1308.4 766.0,1311.6 765.8,1314.7 765.7,1317.8 765.6,1320.9 765.5,1324.1 765.3,1327.2 765.2,1330.3 765.1,1333.5 764.9,1336.6 764.8,1339.8 764.7,1342.9 764.5,1346.1 764.4,1349.2 764.3,1352.4 764.1,1355.5 764.0,1358.7 763.8,1361.8 763.7,1365.0 763.5,1368.1 763.4,1371.3 763.3,1374.4 763.1,1377.5 763.0,1380.7 762.8,1383.8 762.7,1386.9 762.5,1390.0 762.4,1392.9 762.2,1395.9 762.1,1398.9 761.9,1401.9 761.7,1404.9 761.6,1408.0 761.4,1411.1 761.2,1414.3 761.1,1417.4 760.9,1420.6 760.7,1423.8 760.6,1427.1 760.4,1430.3 760.2,1433.6 760.0,1436.9 759.8,1440.2 759.7,1443.5 759.5,1446.8 759.3,1450.1 759.1,1453.5 758.9,1456.9 758.7,1460.2 758.5,1463.6 758.3,1467.0 758.1,1470.3 757.9,1473.7 757.7,1477.1 757.5,1480.4 757.3,1483.8 757.1,1487.2 756.9,1490.5 756.7,1493.9 756.5,1497.2 756.3,1500.5 756.1,1503.8 756.0,1507.1 755.8,1510.4 755.6,1513.7 755.4,1516.9 755.2,1520.1 755.0,1523.3 754.8,1526.5 754.6,1529.7 754.4,1532.8 754.2,1535.9 754.0,1539.0 753.8,1542.0 753.7,1545.0 753.5,1548.0 753.3,1550.9 753.1,1553.8 752.9,1556.7 752.8,1559.5 752.6,1562.3 752.4,1565.0 752.2,1567.7 752.1,1570.4 751.9,1573.0 751.8,1575.5 751.6,1578.0 751.4,1580.5 751.3,1582.9 751.1,1585.2 751.0,1587.5 750.9,1589.8 750.7,1591.9 750.6,1594.0 750.5,1596.1 750.3,1598.1 750.2,1600.0 749.9,1604.2 749.7,1608.1 749.4,1611.7 749.2,1615.1 749.0,1618.3 748.8,1621.3 748.5,1624.3 748.3,1627.1 748.1,1629.9 747.9,1632.7 747.7,1635.5 747.5,1638.3 747.3,1641.3 747.1,1644.4"/><path d="M721.3,1644.4 722.1,1646.2 723.1,1648.0 725.4,1651.4 728.4,1654.2 731.9,1655.1 735.6,1655.1 738.9,1654.9 741.8,1654.0 744.4,1651.2 746.2,1648.0 746.8,1646.2 747.1,1644.4"/><path d="M833.2,1093.2 833.5,1096.2 833.9,1099.2 834.2,1102.2 834.5,1105.2 834.8,1108.1 835.1,1111.1 835.4,1114.1 835.8,1117.0 836.1,1120.0 836.4,1122.9 836.7,1125.9 837.0,1128.8 837.3,1131.8 837.6,1134.7 837.9,1137.7 838.2,1140.6 838.5,1143.6 838.8,1146.5 839.2,1149.5 839.5,1152.4 839.8,1155.4 840.1,1158.4 840.4,1161.3 840.7,1164.3 841.0,1167.2 841.3,1170.2 841.7,1173.2 842.0,1176.2 842.3,1179.2 842.6,1182.2 843.0,1185.2 843.3,1188.2 843.6,1191.2 844.0,1194.2 844.3,1197.2 844.7,1200.3 845.0,1203.3 845.4,1206.4 845.7,1209.4 846.1,1212.5 846.5,1215.6 846.8,1218.7 847.2,1221.8 847.6,1224.9 848.0,1228.1 848.4,1231.2 848.8,1234.1 849.2,1237.0 849.5,1240.1 850.0,1243.2 850.4,1246.3 850.8,1249.6 851.3,1252.9 851.7,1256.2 852.2,1259.6 852.7,1263.1 853.2,1266.6 853.7,1270.1 854.2,1273.7 854.7,1277.3 855.2,1280.9 855.7,1284.6 856.2,1288.2 856.8,1291.9 857.3,1295.6 857.8,1299.3 858.4,1303.0 858.9,1306.7 859.5,1310.4 860.0,1314.1 860.5,1317.7 861.1,1321.4 861.6,1325.0 862.1,1328.6 862.7,1332.1 863.2,1335.7 863.7,1339.1 864.2,1342.6 864.7,1345.9 865.2,1349.3 865.7,1352.5 866.2,1355.8 866.6,1358.9 867.1,1362.0 867.5,1365.0 868.0,1367.9 868.4,1370.7 868.8,1373.5 869.2,1376.1 869.6,1378.7 870.0,1381.1 870.3,1383.5 870.6,1385.7 871.0,1387.9 871.3,1389.9 871.5,1391.8 871.8,1393.6 872.0,1395.2 872.2,1396.7 872.4,1398.1 872.6,1399.3 872.8,1400.4 872.9,1401.3 873.3,1404.1 873.5,1406.0"/><path d="M870.1,1089.5 870.4,1092.5 870.7,1095.5 871.0,1098.5 871.3,1101.5 871.6,1104.5 872.0,1107.5 872.3,1110.5 872.6,1113.5 872.9,1116.4 873.2,1119.4 873.6,1122.4 873.9,1125.4 874.2,1128.3 874.5,1131.3 874.8,1134.3 875.2,1137.2 875.5,1140.2 875.8,1143.2 876.1,1146.1 876.5,1149.1 876.8,1152.1 877.1,1155.1 877.4,1158.0 877.7,1161.0 878.1,1164.0 878.4,1167.0 878.7,1170.0 879.0,1173.0 879.3,1176.0 879.6,1179.0 879.9,1182.0 880.2,1185.0 880.5,1188.0 880.8,1191.0 881.1,1194.1 881.4,1197.1 881.7,1200.2 882.0,1203.2 882.2,1206.3 882.5,1209.4 882.8,1212.5 883.1,1215.6 883.3,1218.7 883.6,1221.8 883.8,1224.9 884.1,1228.1 884.3,1231.2 884.5,1234.1 884.7,1237.2 885.0,1240.3 885.2,1243.4 885.4,1246.7 885.6,1250.0 885.8,1253.4 886.0,1256.8 886.2,1260.3 886.5,1263.8 886.7,1267.4 886.9,1271.0 887.1,1274.6 887.3,1278.3 887.5,1282.0 887.7,1285.7 887.9,1289.5 888.1,1293.2 888.3,1297.0 888.5,1300.8 888.7,1304.5 888.9,1308.3 889.0,1312.0 889.2,1315.8 889.4,1319.5 889.6,1323.2 889.8,1326.8 889.9,1330.5 890.1,1334.1 890.2,1337.6 890.4,1341.1 890.6,1344.6 890.7,1348.0 890.9,1351.3 891.0,1354.6 891.1,1357.9 891.3,1361.0 891.4,1364.1 891.5,1367.1 891.6,1370.0 891.8,1372.8 891.9,1375.5 892.0,1378.1 892.1,1380.7 892.2,1383.1 892.3,1385.4 892.3,1387.6 892.4,1389.6 892.5,1391.6 892.5,1393.4 892.6,1395.1 892.7,1396.6 892.7,1398.0 892.7,1399.3 892.8,1400.4 892.8,1401.3 892.8,1404.1 892.8,1406.0"/><path d="M873.5,1406.0 874.5,1409.0 876.0,1411.5 879.0,1413.1 882.4,1413.7 885.9,1413.1 889.0,1411.5 891.1,1409.0 892.8,1406.0"/><path d="M1074.4,1061.7 1075.3,1064.6 1076.1,1067.5 1076.9,1070.3 1077.7,1073.1 1078.5,1075.8 1079.3,1078.5 1080.1,1081.2 1080.8,1083.9 1081.6,1086.5 1082.3,1089.2 1083.1,1091.8 1083.8,1094.5 1084.6,1097.1 1085.3,1099.8 1086.1,1102.4 1086.8,1105.1 1087.6,1107.8 1088.4,1110.5 1089.2,1113.2 1090.0,1116.0 1090.8,1118.8 1091.6,1121.6 1092.5,1124.5 1093.3,1127.4 1094.2,1130.4 1095.2,1133.5 1096.1,1136.6 1097.1,1139.8 1098.1,1143.0 1099.1,1146.3 1100.2,1149.7 1101.3,1153.2 1102.4,1156.8 1103.6,1160.4 1104.8,1164.2 1105.5,1166.2 1106.1,1168.3 1106.8,1170.4 1107.5,1172.6 1108.3,1174.8 1109.0,1177.1 1109.8,1179.4 1110.6,1181.8 1111.5,1184.2 1112.3,1186.7 1113.2,1189.3 1114.0,1191.9 1114.9,1194.5 1115.8,1197.2 1116.8,1199.9 1117.7,1202.6 1118.7,1205.4 1119.7,1208.3 1120.7,1211.2 1121.7,1214.1 1122.7,1217.1 1123.8,1220.1 1124.8,1223.1 1125.9,1226.1 1127.0,1229.2 1128.1,1232.4 1129.2,1235.5 1130.3,1238.7 1131.4,1242.0 1132.6,1245.2 1133.7,1248.5 1134.9,1251.8 1136.0,1255.1 1137.2,1258.5 1138.4,1261.8 1139.6,1265.2 1140.8,1268.7 1142.0,1272.1 1143.3,1275.5 1144.5,1279.0 1145.7,1282.5 1147.0,1286.0 1148.2,1289.5 1149.5,1293.1 1150.8,1296.6 1152.0,1300.2 1153.3,1303.7 1154.6,1307.3 1155.8,1310.9 1157.1,1314.5 1158.4,1318.1 1159.7,1321.7 1161.0,1325.3 1162.3,1328.9 1163.6,1332.5 1164.9,1336.1 1166.1,1339.7 1167.4,1343.3 1168.7,1346.9 1170.0,1350.5 1171.3,1354.1 1172.6,1357.7 1173.9,1361.3 1175.2,1364.8 1176.4,1368.4 1177.7,1371.9 1179.0,1375.5 1180.3,1379.0 1181.5,1382.5 1182.8,1386.0 1184.0,1389.5 1185.3,1393.0 1186.5,1396.4 1187.7,1399.9 1189.0,1403.3 1190.2,1406.7 1191.4,1410.1 1192.6,1413.4 1193.8,1416.7 1195.0,1420.0 1196.2,1423.3 1197.3,1426.5 1198.5,1429.8 1199.6,1433.0 1200.8,1436.1 1201.9,1439.2 1203.0,1442.3 1204.1,1445.4 1205.2,1448.4 1206.3,1451.4 1207.3,1454.4 1208.4,1457.3 1209.4,1460.2 1210.4,1463.0 1211.4,1465.8 1212.4,1468.6 1213.4,1471.3 1214.3,1473.9 1215.3,1476.6 1216.2,1479.1 1217.1,1481.7 1218.0,1484.1 1218.8,1486.6 1219.7,1489.0 1220.5,1491.3 1221.3,1493.6 1222.1,1495.8 1222.9,1498.0 1223.6,1500.1 1224.3,1502.1 1225.0,1504.1 1225.7,1506.1 1226.4,1507.9 1227.0,1509.8 1227.6,1511.5 1228.2,1513.2 1228.8,1514.8 1229.3,1516.4 1229.8,1517.9 1230.3,1519.3 1230.8,1520.7 1231.2,1522.0 1231.6,1523.2 1232.0,1524.3 1232.4,1525.4 1232.7,1526.4 1233.0,1527.3 1233.3,1528.2 1234.7,1532.6 1235.4,1535.5 1236.2,1538.3"/><path d="M1112.0,1054.4 1113.0,1057.2 1114.0,1060.0 1114.9,1062.7 1115.9,1065.4 1116.8,1068.1 1117.8,1070.7 1118.7,1073.3 1119.6,1075.9 1120.5,1078.4 1121.4,1081.0 1122.4,1083.5 1123.3,1086.1 1124.2,1088.6 1125.1,1091.1 1126.0,1093.7 1126.9,1096.3 1127.9,1098.9 1128.8,1101.5 1129.8,1104.1 1130.7,1106.8 1131.7,1109.5 1132.6,1112.3 1133.6,1115.1 1134.6,1117.9 1135.6,1120.9 1136.6,1123.8 1137.7,1126.9 1138.7,1130.0 1139.8,1133.2 1140.9,1136.4 1142.0,1139.8 1143.1,1143.2 1144.3,1146.7 1145.5,1150.4 1146.7,1154.1 1147.3,1156.1 1148.0,1158.1 1148.6,1160.1 1149.3,1162.1 1149.9,1164.2 1150.6,1166.3 1151.3,1168.4 1152.0,1170.6 1152.6,1172.8 1153.3,1175.0 1154.0,1177.2 1154.7,1179.4 1155.5,1181.7 1156.2,1184.0 1156.9,1186.4 1157.6,1188.7 1158.4,1191.1 1159.1,1193.5 1159.8,1195.9 1160.6,1198.3 1161.4,1200.8 1162.1,1203.3 1162.9,1205.8 1163.7,1208.3 1164.4,1210.9 1165.2,1213.4 1166.0,1216.0 1166.8,1218.6 1167.6,1221.2 1168.4,1223.9 1169.2,1226.6 1170.0,1229.2 1170.8,1231.9 1171.6,1234.6 1172.5,1237.4 1173.3,1240.1 1174.1,1242.9 1175.0,1245.7 1175.8,1248.5 1176.7,1251.3 1177.5,1254.1 1178.4,1257.0 1179.2,1259.8 1180.1,1262.7 1180.9,1265.6 1181.8,1268.5 1182.7,1271.4 1183.5,1274.4 1184.4,1277.3 1185.3,1280.3 1186.2,1283.2 1187.1,1286.2 1187.9,1289.2 1188.8,1292.2 1189.7,1295.2 1190.6,1298.2 1191.5,1301.3 1192.4,1304.3 1193.3,1307.4 1194.2,1310.4 1195.1,1313.5 1196.0,1316.6 1197.0,1319.7 1197.9,1322.7 1198.8,1325.9 1199.7,1329.0 1200.6,1332.1 1201.5,1335.2 1202.5,1338.3 1203.4,1341.5 1204.3,1344.6 1205.2,1347.8 1206.2,1350.9 1207.1,1354.1 1208.0,1357.2 1209.0,1360.4 1209.9,1363.6 1210.8,1366.7 1211.7,1369.9 1212.7,1373.1 1213.6,1376.3 1214.6,1379.4 1215.5,1382.6 1216.4,1385.8 1217.4,1389.0 1218.3,1392.2 1219.2,1395.4 1220.2,1398.6 1221.1,1401.7 1222.0,1404.9 1223.0,1408.1 1223.9,1411.3 1224.8,1414.5 1225.8,1417.7 1226.7,1420.8 1227.6,1424.0 1228.6,1427.2 1229.5,1430.4 1230.4,1433.5 1231.4,1436.7 1232.3,1439.8 1233.2,1443.0 1234.2,1446.2 1235.1,1449.3 1236.0,1452.4 1236.9,1455.6 1237.8,1458.7 1238.8,1461.8 1239.7,1464.9 1240.6,1468.0 1241.5,1471.1 1242.4,1474.2 1243.3,1477.3 1244.2,1480.4 1245.2,1483.5 1246.1,1486.5 1247.0,1489.6 1247.9,1492.6 1248.8,1495.6 1249.7,1498.7 1250.5,1501.7 1251.4,1504.7 1252.3,1507.7 1253.2,1510.6 1254.1,1513.6 1255.0,1516.5 1255.8,1519.5 1256.7,1522.4 1257.6,1525.3 1258.4,1528.2 1259.3,1531.1"/><path d="M1236.2,1538.3 1237.4,1540.6 1239.0,1542.5 1241.7,1543.7 1244.9,1544.1 1248.5,1543.5 1252.0,1542.0 1255.1,1539.8 1257.5,1537.0 1258.6,1534.1 1259.3,1531.1"/></g>
</defs>
<rect width="1800" height="1800" fill="#fff"/>
<g transform="translate(932,-163.6) scale(0.4715)" fill="none" stroke="#6d6d6d" stroke-linecap="round" stroke-linejoin="round">
<use href="#cT" stroke-width="2.4"/>
<use href="#cN" stroke-width="2.2"/>
<use href="#cL" stroke-width="2.4"/>
</g>

<g stroke="#231f20" fill="#fff" stroke-width="2.2">
<path d="M1264.4,133.3 C1272,130 1290,129 1305.3,128 C1312,120 1315.5,110 1315.3,100 C1315,90 1310,84 1306,79 L1304.5,76 L1304,72 C1315,69.5 1340,69.5 1351.5,72 L1351,76 L1348.7,79 C1345,84 1339.5,92 1339.3,104 C1339.5,114 1343,121 1348.7,128 C1365,129 1382,130 1388,133.3 L1388,280 Q1388,284.5 1383,286.5 C1370,291.5 1348,294.2 1326,294.2 C1304,294.2 1282,291.5 1269.5,286.5 Q1264.4,284.5 1264.4,280 Z"/>
</g>
<path d="M1265,134.7 C1285,137 1305,138 1326,138 C1347,138 1368,137 1388,134.7" stroke="#231f20" stroke-width="1.3" fill="none"/>
<path d="M1304.5,73 C1318,74.5 1338,74.5 1351,73" stroke="#231f20" stroke-width="1" fill="none"/>

<text x="1325" y="186" font-size="39" text-anchor="middle" textLength="78" lengthAdjust="spacingAndGlyphs">MAX</text>
<text x="1326.6" y="241.4" font-size="65" text-anchor="middle" textLength="107" lengthAdjust="spacingAndGlyphs">150</text>
<text x="1325" y="281.25" font-size="43" text-anchor="middle" textLength="49" lengthAdjust="spacingAndGlyphs">kg</text>
<text x="1001.4" y="428.5" font-size="74" text-anchor="middle" textLength="84" lengthAdjust="spacingAndGlyphs">x2</text>
<g fill="none" stroke="#231f20" stroke-linecap="round" stroke-linejoin="round">
<use href="#cT" stroke-width="2.4"/>
<use href="#cN" stroke-width="1.2"/>
<use href="#cL" stroke-width="1.7"/>
</g>
<path d="M380.0,459.5 L725.1,430.6" stroke="#231f20" stroke-width="6" fill="none"/><path d="M361.1,461.1 L381.0,446.9 L383.1,471.8ZM744.0,429.0 L724.1,443.2 L722.0,418.3Z" fill="#231f20"/><path d="M330.7,508.0 L330.7,1492.0" stroke="#231f20" stroke-width="6" fill="none"/><path d="M330.7,489.0 L343.2,510.0 L318.2,510.0ZM330.7,1511.0 L318.2,1490.0 L343.2,1490.0Z" fill="#231f20"/><path d="M891.4,912.8 L1202.6,941.5" stroke="#231f20" stroke-width="6" fill="none"/><path d="M872.5,911.0 L894.6,900.5 L892.3,925.4ZM1221.5,943.3 L1199.4,953.8 L1201.7,928.9Z" fill="#231f20"/><path d="M735.8,1069.6 L1226.6,1002.9" stroke="#231f20" stroke-width="6" fill="none"/><path d="M717.0,1072.2 L736.1,1057.0 L739.5,1081.8ZM1245.4,1000.3 L1226.3,1015.5 L1222.9,990.7Z" fill="#231f20"/><path d="M1271.5,772.6 L1271.5,1002.0" stroke="#231f20" stroke-width="6" fill="none"/><path d="M1271.5,753.6 L1284.0,774.6 L1259.0,774.6ZM1271.5,1021.0 L1259.0,1000.0 L1284.0,1000.0Z" fill="#231f20"/><path d="M1271.5,1042.0 L1271.5,1523.6" stroke="#231f20" stroke-width="6" fill="none"/><path d="M1271.5,1023.0 L1284.0,1044.0 L1259.0,1044.0ZM1271.5,1542.6 L1259.0,1521.6 L1284.0,1521.6Z" fill="#231f20"/><path d="M394.0,1518.2 L710.2,1646.8" stroke="#231f20" stroke-width="6" fill="none"/><path d="M376.4,1511.0 L400.6,1507.3 L391.1,1530.5ZM727.8,1654.0 L703.6,1657.7 L713.1,1634.5Z" fill="#231f20"/><path d="M348.1,1554.3 L711.5,1706.7" stroke="#231f20" stroke-width="6" fill="none"/><path d="M330.6,1547.0 L354.8,1543.6 L345.1,1566.6ZM729.0,1714.0 L704.8,1717.4 L714.5,1694.4Z" fill="#231f20"/><path d="M761.9,1646.1 L1227.6,1547.7" stroke="#231f20" stroke-width="6" fill="none"/><path d="M743.3,1650.0 L761.3,1633.4 L766.4,1657.9ZM1246.2,1543.8 L1228.2,1560.4 L1223.1,1535.9Z" fill="#231f20"/><path d="M748.6,1707.7 L1271.4,1594.0" stroke="#231f20" stroke-width="6" fill="none"/><path d="M730.0,1711.7 L747.9,1695.0 L753.2,1719.5ZM1290.0,1590.0 L1272.1,1606.7 L1266.8,1582.2Z" fill="#231f20"/><path d="M1070.0,1175.0 L1087.7,1169.9" stroke="#231f20" stroke-width="6" fill="none"/><path d="M1105.0,1165.0 L1089.1,1182.0 L1082.5,1159.0Z" fill="#231f20"/><path d="M1183.0,1143.0 L1165.3,1148.1" stroke="#231f20" stroke-width="6" fill="none"/><path d="M1148.0,1153.0 L1163.9,1136.0 L1170.5,1159.0Z" fill="#231f20"/>
<g transform="translate(575.5,417.9) rotate(-4.78)"><text x="0" y="14.8" font-size="43" text-anchor="middle" textLength="115" lengthAdjust="spacingAndGlyphs">37 cm</text></g><g transform="translate(303.1,999.5) rotate(-90)"><text x="0" y="14.8" font-size="43" text-anchor="middle" textLength="115" lengthAdjust="spacingAndGlyphs">78 cm</text></g><g transform="translate(1051,901.5) rotate(5.17)"><text x="0" y="14.8" font-size="43" text-anchor="middle" textLength="116" lengthAdjust="spacingAndGlyphs">43 cm</text></g><g transform="translate(991.5,1015) rotate(-7.73)"><text x="0" y="14.8" font-size="43" text-anchor="middle" textLength="115" lengthAdjust="spacingAndGlyphs">54 cm</text></g><g transform="translate(1297.5,885) rotate(-90)"><text x="0" y="14.5" font-size="42" text-anchor="middle" textLength="116" lengthAdjust="spacingAndGlyphs">20 cm</text></g><g transform="translate(1299,1267) rotate(-90)"><text x="0" y="14.5" font-size="42" text-anchor="middle" textLength="116" lengthAdjust="spacingAndGlyphs">47 cm</text></g><g transform="translate(545.5,1603.5) rotate(22.1)"><text x="0" y="14.8" font-size="43" text-anchor="middle" textLength="118" lengthAdjust="spacingAndGlyphs">50 cm</text></g><g transform="translate(501,1644.2) rotate(22.7)"><text x="0" y="14.8" font-size="43" text-anchor="middle" textLength="117" lengthAdjust="spacingAndGlyphs">62 cm</text></g><g transform="translate(994,1618) rotate(-12)"><text x="0" y="14.8" font-size="43" text-anchor="middle" textLength="117" lengthAdjust="spacingAndGlyphs">48 cm</text></g><g transform="translate(1013.5,1673) rotate(-12.26)"><text x="0" y="14.8" font-size="43" text-anchor="middle" textLength="114" lengthAdjust="spacingAndGlyphs">59 cm</text></g>
<text x="1194.2" y="1127.8" font-size="41" text-anchor="middle" textLength="92" lengthAdjust="spacingAndGlyphs">5 cm</text>
<text x="1576.3" y="1734.6" font-size="49" text-anchor="middle" textLength="190" lengthAdjust="spacingAndGlyphs"><tspan font-weight="normal">+/-</tspan> 2 cm</text>
</svg>
</body></html>
